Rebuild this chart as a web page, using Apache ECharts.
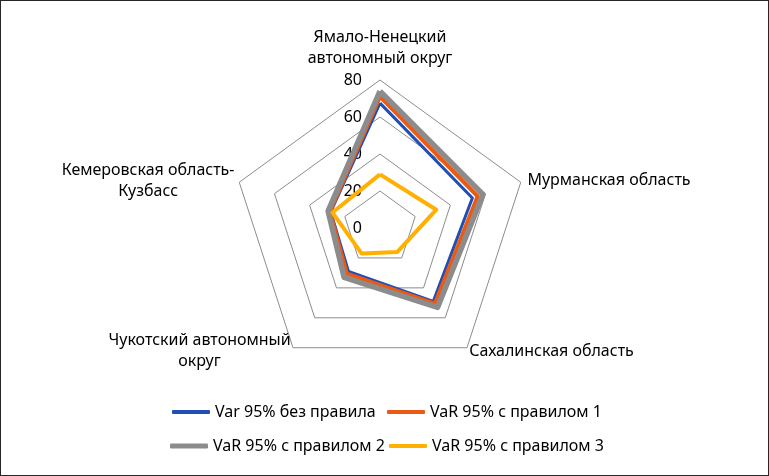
<!DOCTYPE html>
<html>
<head>
<meta charset="utf-8">
<script src="https://cdn.jsdelivr.net/npm/echarts@6/dist/echarts.min.js"></script>
<style>
html,body{margin:0;padding:0;background:#fff;}
#wrap{width:769px;height:476px;box-sizing:border-box;border:1px solid #262626;position:relative;}
#chart{width:767px;height:474px;position:absolute;left:0;top:0;}
</style>
</head>
<body>
<div id="wrap"><div id="chart"></div></div>
<script>
var categories = [
  'Ямало-Ненецкий\nавтономный округ',
  'Мурманская область',
  'Сахалинская область',
  'Чукотский автономный\nокруг',
  'Кемеровская область-\nКузбасс'
];
var seriesNames = ['Var 95% без правила', 'VaR 95% с правилом 1', 'VaR 95% с правилом 2', 'VaR 95% с правилом 3'];
var var0 = [67.5, 52.5, 49, 29, 28];
var var1 = [71, 55.5, 50.5, 30.5, 28.5];
var var2 = [74, 58.5, 53, 33, 29.5];
var var3 = [29, 32, 16, 17, 27];
var axisTicks = [0, 20, 40, 60, 80];

var FONT = 'Noto Sans';
var FS = 16;
var colors = ['#1F4EB4', '#EB5A14', '#8C8C8C', '#FFB000'];
var widths = [3, 4, 5.5, 4];
var gaps = [11, 7, 4, 4, 5];

// ECharts lays radar axes counter-clockwise; the reference runs clockwise.
var order = [0, 4, 3, 2, 1];

var chart = echarts.init(document.getElementById('chart'), null, {renderer: 'canvas'});

var indicator = order.map(function (i) {
  var ind = {name: categories[i], min: axisTicks[0], max: axisTicks[axisTicks.length - 1], nameGap: gaps[i]};
  if (i === 0) {
    ind.axisLabel = {show: true};
  }
  return ind;
});

var allData = [var0, var1, var2, var3];
var series = [{
  type: 'radar',
  symbol: 'none',
  data: allData.map(function (d, i) {
    return {
      name: seriesNames[i],
      value: order.map(function (k) { return d[k]; }),
      lineStyle: {color: colors[i], width: widths[i]},
      itemStyle: {color: colors[i]}
    };
  })
}];

var legendPos = [
  {left: 171, top: 402},
  {left: 386, top: 402},
  {left: 169, top: 436},
  {left: 388, top: 436}
];
var legends = seriesNames.map(function (n, i) {
  return {
    data: [n],
    left: legendPos[i].left,
    top: legendPos[i].top,
    padding: 0,
    icon: 'roundRect',
    itemWidth: 38,
    itemHeight: i === 2 ? 5 : 4,
    textStyle: {fontFamily: FONT, fontSize: FS, color: '#000', lineHeight: 18},
    selectedMode: false
  };
});

chart.setOption({
  animation: false,
  color: colors,
  legend: legends,
  radar: {
    center: [379, 227],
    radius: 148,
    shape: 'polygon',
    splitNumber: 4,
    startAngle: 90,
    axisName: {
      color: '#000',
      fontFamily: FONT,
      fontSize: FS,
      lineHeight: 21,
      formatter: function (name) {
        return name.split('\n').map(function (l) { return '{c|' + l + '}'; }).join('\n');
      },
      rich: {c: {align: 'center', fontFamily: FONT, fontSize: FS, lineHeight: 21, color: '#000'}}
    },
    axisLine: {show: false},
    axisTick: {show: false},
    axisLabel: {show: false, color: '#000', fontFamily: FONT, fontSize: FS, margin: 0, align: 'right', padding: [0, 18, 0, 0]},
    splitLine: {lineStyle: {color: '#8C8C8C', width: 1}},
    splitArea: {show: false},
    indicator: indicator
  },
  series: series
});
</script>
</body>
</html>
